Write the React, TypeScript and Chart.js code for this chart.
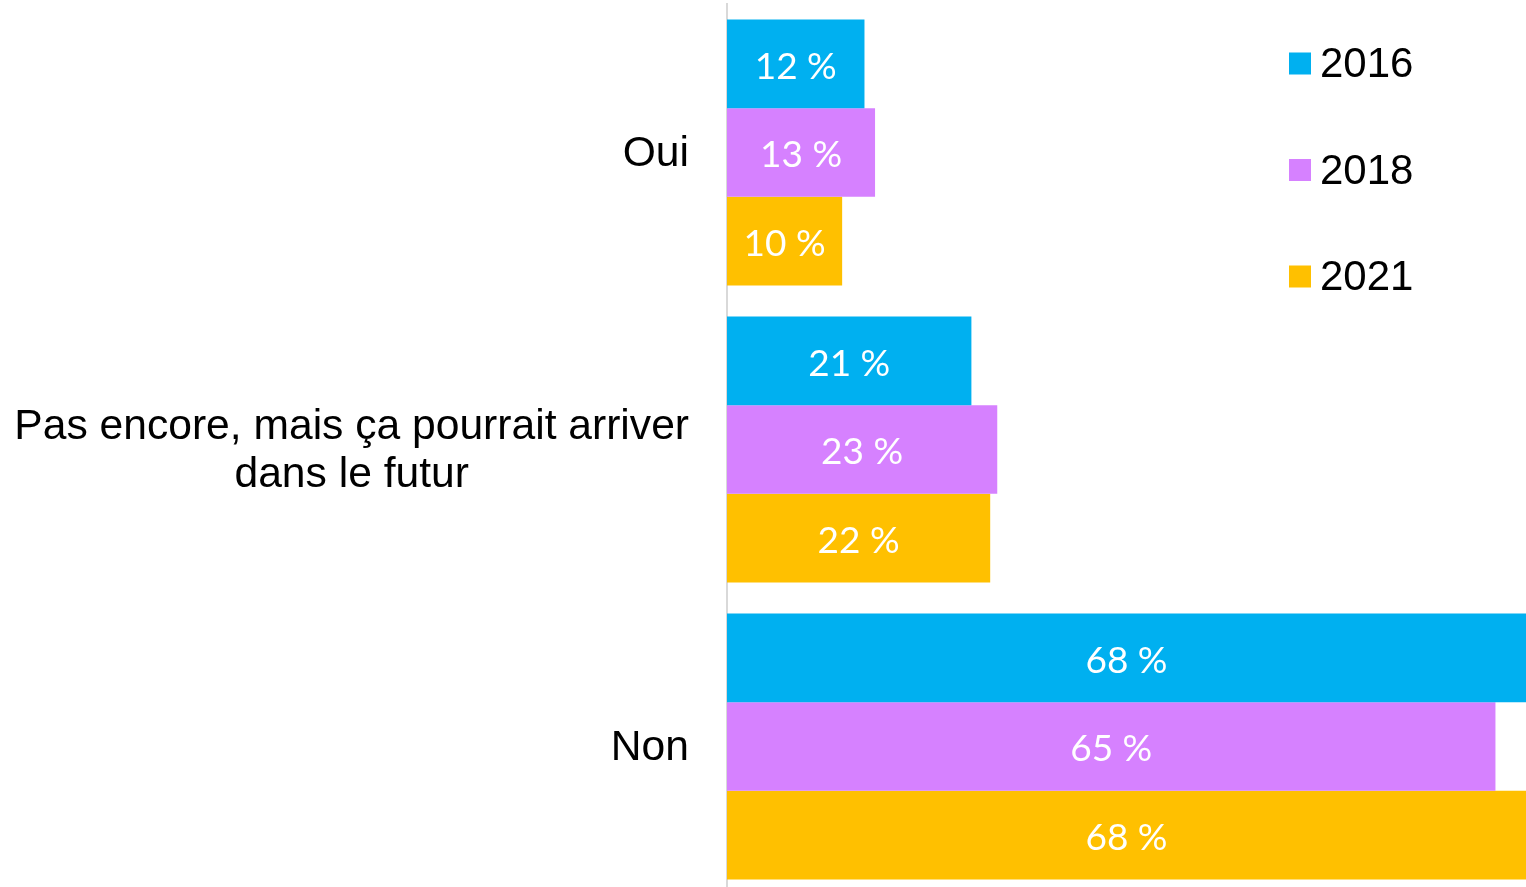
import React, { useEffect, useRef } from "react";
import { Chart, registerables } from "chart.js";

Chart.register(...registerables);

const categories: string[][] = [
  ["Oui"],
  ["Pas encore, mais ça pourrait arriver", "dans le futur"],
  ["Non"],
];
const seriesNames = ["2016", "2018", "2021"];
const values2016 = [11.7, 20.8, 68.0];
const values2018 = [12.6, 23.0, 65.4];
const values2021 = [9.8, 22.4, 68.0];
const colors = ["#00B0F0", "#D681FF", "#FFC000"];
const xMax = 68;

const catFont = "42.6px 'Liberation Sans', Arial, sans-serif";
const legendFont = "42px 'Liberation Sans', Arial, sans-serif";
const valueFont = "37px Lato, 'Open Sans', sans-serif";

const categoryLabelsPlugin = {
  id: "categoryLabels",
  afterDraw(chart: any) {
    const ctx = chart.ctx;
    const y = chart.scales.y;
    const rightEdge = chart.chartArea.left - 38;
    const lineH = 48;
    ctx.save();
    ctx.font = catFont;
    ctx.fillStyle = "#000";
    ctx.textBaseline = "middle";
    ctx.textAlign = "center";
    (chart.data.labels as string[][]).forEach((lines, i) => {
      const cy = y.getPixelForValue(i) + 1.5;
      const maxW = Math.max(...lines.map((l) => ctx.measureText(l).width));
      const cx = rightEdge - maxW / 2;
      const startY = cy - ((lines.length - 1) * lineH) / 2;
      lines.forEach((l, j) => ctx.fillText(l, cx, startY + j * lineH));
    });
    ctx.restore();
  },
};

const valueLabelsPlugin = {
  id: "valueLabels",
  afterDatasetsDraw(chart: any) {
    const ctx = chart.ctx;
    ctx.save();
    ctx.font = valueFont;
    ctx.fillStyle = "#fff";
    ctx.textAlign = "center";
    ctx.textBaseline = "middle";
    chart.data.datasets.forEach((ds: any, di: number) => {
      const meta = chart.getDatasetMeta(di);
      meta.data.forEach((el: any, i: number) => {
        const v = ds.data[i];
        const cx = (el.base + el.x) / 2;
        ctx.fillText(`${Math.round(v)} %`, cx, el.y + 3);
      });
    });
    ctx.restore();
  },
};

const legendPlugin = {
  id: "customLegend",
  afterDraw(chart: any) {
    const ctx = chart.ctx;
    ctx.save();
    ctx.font = legendFont;
    ctx.textBaseline = "middle";
    ctx.textAlign = "left";
    const x0 = 1289;
    const ys = [63.5, 170, 276.5];
    chart.data.datasets.forEach((ds: any, i: number) => {
      const cy = ys[i];
      ctx.fillStyle = ds.backgroundColor;
      ctx.fillRect(x0, cy - 11, 22, 22);
      ctx.fillStyle = "#000";
      ctx.fillText(ds.label, x0 + 31, cy + 2);
    });
    ctx.restore();
  },
};

export default function App() {
  const ref = useRef<HTMLCanvasElement>(null);
  useEffect(() => {
    if (!ref.current) return;
    const chart = new Chart(ref.current, {
      type: "bar",
      data: {
        labels: categories as any,
        datasets: [values2016, values2018, values2021].map((vals, i) => ({
          label: seriesNames[i],
          data: vals,
          backgroundColor: colors[i],
          borderWidth: 0,
          categoryPercentage: 0.896,
          barPercentage: 1,
        })),
      },
      options: {
        indexAxis: "y",
        responsive: false,
        animation: false,
        layout: { padding: { left: 719, top: 4, right: 0, bottom: 1 } },
        plugins: { legend: { display: false }, tooltip: { enabled: false } },
        scales: {
          x: { display: false, min: 0, max: xMax },
          y: {
            display: true,
            grid: { display: false },
            ticks: { display: false },
            border: { display: true, color: "#d9d9d9", width: 2 },
          },
        },
      },
      plugins: [categoryLabelsPlugin, valueLabelsPlugin, legendPlugin],
    });
    return () => chart.destroy();
  }, []);
  return (
    <div
      style={{
        position: "fixed",
        left: 0,
        top: 0,
        width: 1526,
        height: 887,
        overflow: "hidden",
        background: "#fff",
      }}
    >
      <canvas ref={ref} width={1526} height={896} style={{ width: 1526, height: 896, display: "block" }} />
    </div>
  );
}
